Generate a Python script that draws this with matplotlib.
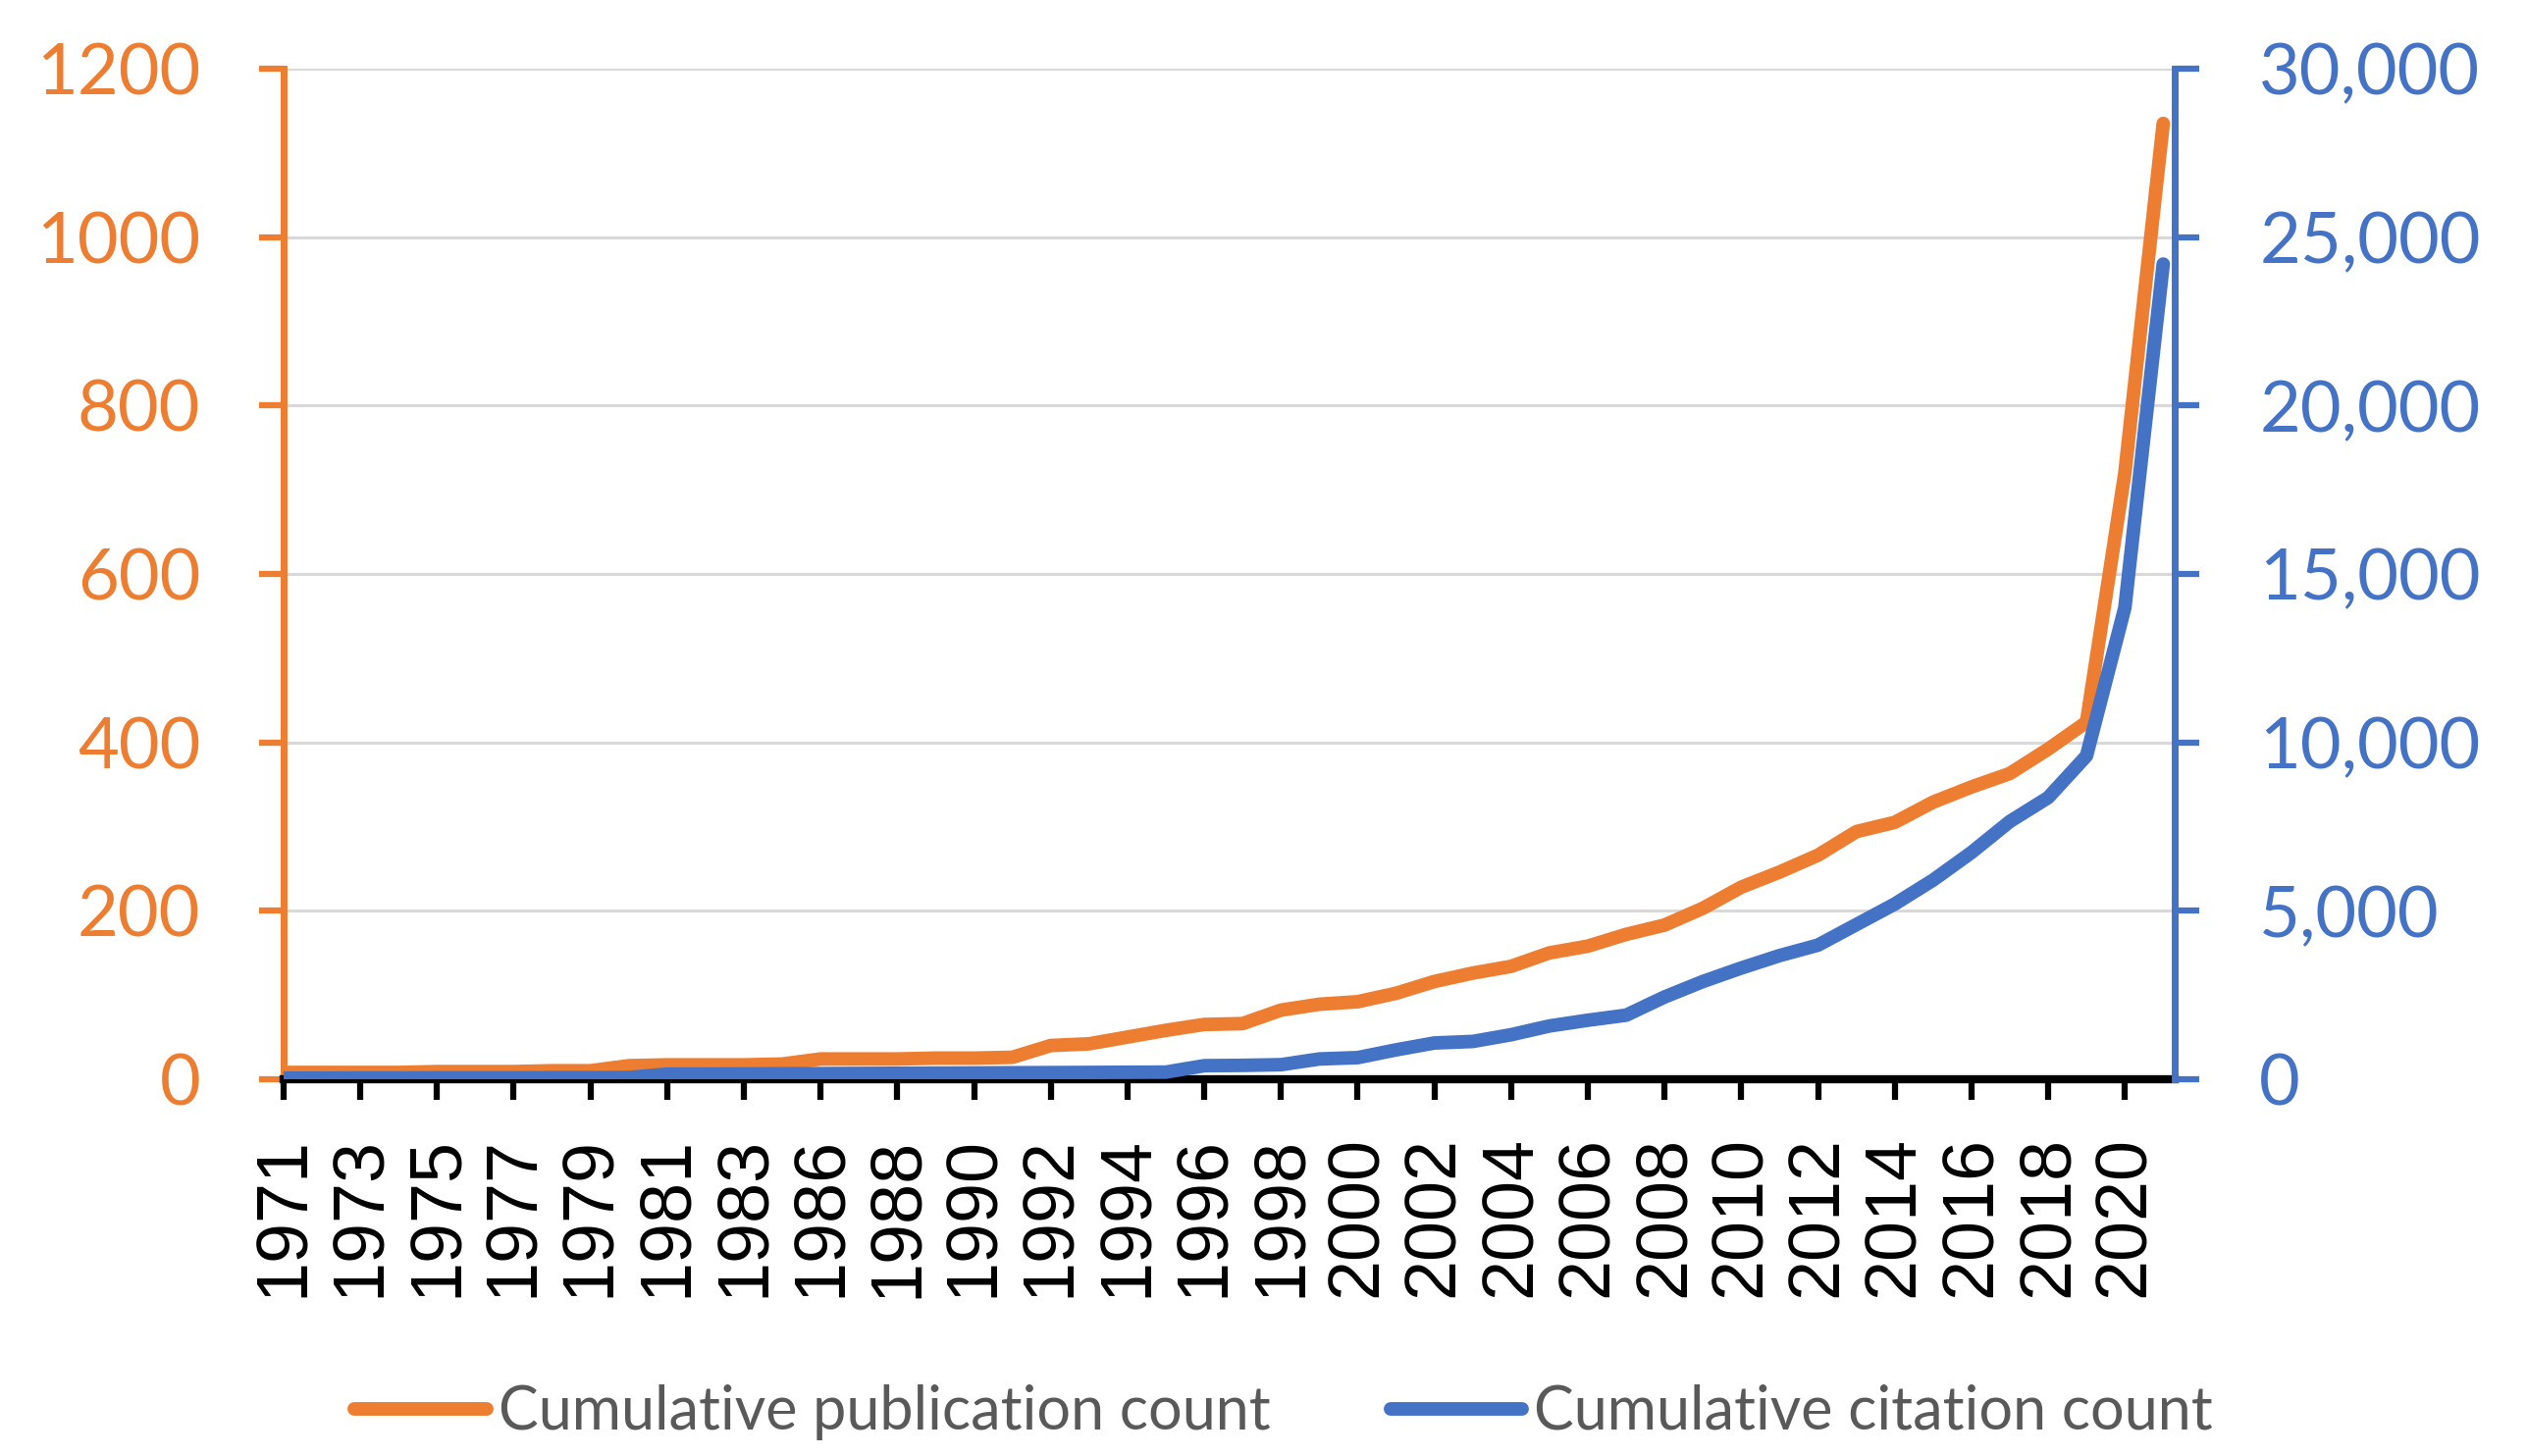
import numpy as np
import matplotlib
matplotlib.use("Agg")
import matplotlib.pyplot as plt

years = list(range(1971, 1984)) + list(range(1985, 2022))
publications = [8, 8, 8, 8, 9, 9, 9, 10, 10, 16, 17, 17, 17,
                18,
                24, 24, 24, 25, 25, 26, 40, 42, 50, 58, 65, 66, 82, 89, 92,
                102, 116, 126, 134, 150, 158, 172, 183, 203, 228, 246, 266,
                294, 305, 329, 347, 363, 392, 424, 720, 1135]
citations = [30, 30, 35, 35, 40, 40, 40, 45, 45, 50, 150, 150, 155,
             160,
             165, 170, 175, 180, 185, 190, 195, 200, 205, 210, 400, 410, 430,
             600, 640, 870, 1075, 1120, 1320, 1580, 1750, 1900, 2440, 2900,
             3300, 3670, 3980, 4590, 5200, 5910, 6730, 7650, 8360, 9600,
             14000, 24200]
left_ticks = [0, 200, 400, 600, 800, 1000, 1200]
right_ticks = [0, 5000, 10000, 15000, 20000, 25000, 30000]

orange = "#ED7D31"
blue = "#4472C4"

fig = plt.figure(figsize=(25.75, 14.84), dpi=100)
ax = fig.add_axes([0.1122, 0.2588, 0.8606 - 0.1122, 0.9528 - 0.2588])
ax2 = ax.twinx()

x = np.arange(len(years))
l1, = ax.plot(x, publications, color=orange, lw=10, solid_capstyle="round",
              solid_joinstyle="round", label="Cumulative publication count")
l2, = ax2.plot(x, citations, color=blue, lw=10, solid_capstyle="round",
               solid_joinstyle="round", label="Cumulative citation count")

ax.set_xlim(0, 49.3)
ax.set_ylim(0, 1200)
ax2.set_ylim(0, 30000)
ax.set_yticks(left_ticks)
ax2.set_yticks(right_ticks)
ax2.set_yticklabels([f"{v:,}" for v in right_ticks])
ax.grid(axis="y", color="#D9D9D9", lw=2.2)
ax.set_axisbelow(True)

ax.set_xticks(x[::2])
ax.set_xticklabels([str(y) for y in years[::2]], rotation=90,
                   fontfamily="Liberation Sans", fontsize=53)
ax.tick_params(axis="x", length=15, width=4.5, color="black", pad=27)

for lab in ax.get_yticklabels():
    lab.set_fontfamily("Lato")
for lab in ax2.get_yticklabels():
    lab.set_fontfamily("Lato")
ax.tick_params(axis="y", labelsize=52, labelcolor=orange, color=orange,
               length=18, width=4.5, pad=43)
ax2.tick_params(axis="y", labelsize=52, labelcolor=blue, color=blue,
                length=18, width=4.5, pad=44)

for s in ["top", "right"]:
    ax.spines[s].set_visible(False)
for s in ["top", "left", "bottom"]:
    ax2.spines[s].set_visible(False)
ax.spines["left"].set_color(orange)
ax.spines["left"].set_linewidth(5)
ax.spines["bottom"].set_color("black")
ax.spines["bottom"].set_linewidth(6)
ax2.spines["right"].set_color(blue)
ax2.spines["right"].set_linewidth(5)

fig.legend(handles=[l1, l2], loc="center", bbox_to_anchor=(0.508, 0.03),
           ncol=2, frameon=False, handlelength=2.2, handletextpad=0.2,
           columnspacing=2.0, prop={"family": "Lato", "size": 44},
           labelcolor="#595959")

fig.savefig("out.png", dpi=100)
